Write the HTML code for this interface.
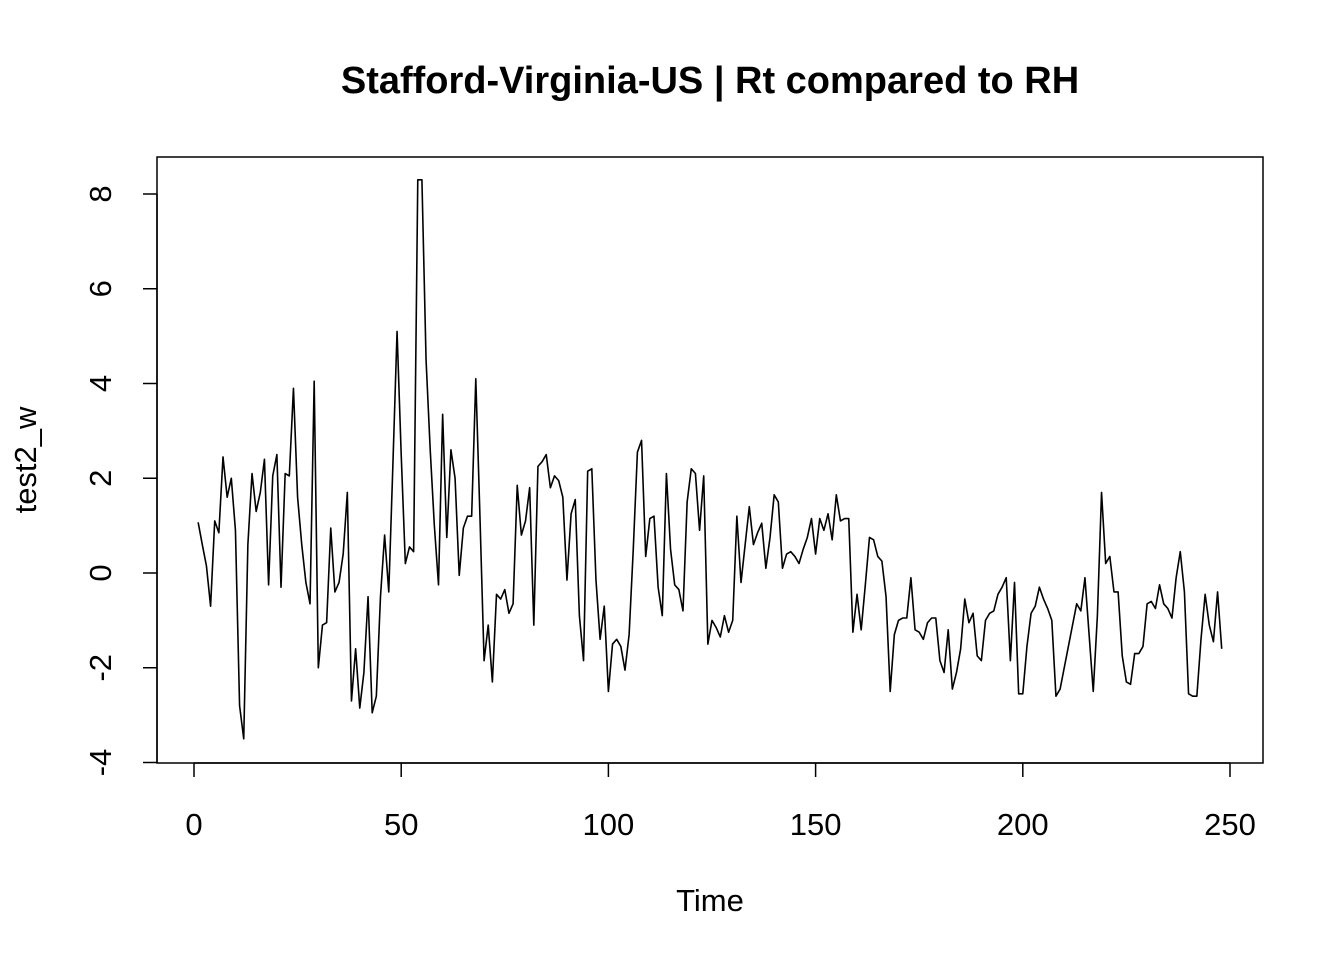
<!DOCTYPE html>
<html><head><meta charset="utf-8"><style>
html,body{margin:0;padding:0;background:#fff;}
svg{display:block;font-family:"Liberation Sans",Arial,sans-serif;}
</style></head><body>
<svg id="chart" width="1344" height="960">
<text x="710" y="93" text-anchor="middle" font-size="38" font-weight="bold">Stafford-Virginia-US | Rt compared to RH</text>
<rect x="157" y="157" width="1106" height="606" fill="none" stroke="#000" stroke-width="1.5"/>
<g id="xaxis"></g>
<g id="yaxis"></g>
<text x="710" y="911" text-anchor="middle" font-size="31">Time</text>
<text transform="translate(36,460) rotate(-90)" text-anchor="middle" font-size="31">test2_w</text>
<path id="line" fill="none" stroke="#000" stroke-width="1.6" stroke-linejoin="round"/>
</svg>
<script>
const xTicks=[0,50,100,150,200,250];
const yTicks=[-4,-2,0,2,4,6,8];
const values=[1.07,0.6,0.15,-0.7,1.1,0.85,2.45,1.6,2.0,0.9,
-2.8,-3.5,0.6,2.1,1.3,1.7,2.4,-0.25,2.05,2.5,
-0.3,2.1,2.05,3.9,1.6,0.6,-0.2,-0.65,4.05,-2.0,
-1.1,-1.05,0.95,-0.4,-0.2,0.4,1.7,-2.7,-1.6,-2.85,
-2.1,-0.5,-2.95,-2.6,-0.5,0.8,-0.4,2.3,5.1,2.5,
0.2,0.55,0.45,8.3,8.3,4.5,2.6,1.0,-0.25,3.35,
0.75,2.6,2.0,-0.05,0.95,1.2,1.2,4.1,1.2,-1.85,
-1.1,-2.3,-0.45,-0.55,-0.35,-0.85,-0.65,1.85,0.8,1.1,
1.8,-1.1,2.25,2.35,2.5,1.8,2.05,1.95,1.6,-0.15,
1.25,1.55,-0.9,-1.85,2.15,2.2,-0.15,-1.4,-0.7,-2.5,
-1.5,-1.4,-1.55,-2.05,-1.3,0.5,2.55,2.8,0.35,1.15,
1.2,-0.3,-0.9,2.1,0.5,-0.25,-0.35,-0.8,1.5,2.2,
2.1,0.9,2.05,-1.5,-1.0,-1.15,-1.35,-0.9,-1.25,-1.0,
1.2,-0.2,0.6,1.4,0.6,0.85,1.05,0.1,0.75,1.65,
1.5,0.1,0.4,0.45,0.35,0.2,0.5,0.75,1.15,0.4,
1.15,0.9,1.25,0.7,1.65,1.1,1.15,1.15,-1.25,-0.45,
-1.2,-0.25,0.75,0.7,0.35,0.25,-0.5,-2.5,-1.3,-1.0,
-0.95,-0.95,-0.1,-1.2,-1.25,-1.4,-1.05,-0.95,-0.95,-1.85,
-2.1,-1.2,-2.45,-2.1,-1.6,-0.55,-1.05,-0.85,-1.75,-1.85,
-1.0,-0.85,-0.8,-0.45,-0.3,-0.1,-1.85,-0.2,-2.55,-2.55,
-1.55,-0.85,-0.7,-0.3,-0.55,-0.75,-1.0,-2.6,-2.45,-2.0,
-1.55,-1.1,-0.65,-0.8,-0.1,-1.3,-2.5,-0.9,1.7,0.2,
0.35,-0.4,-0.4,-1.75,-2.3,-2.35,-1.7,-1.7,-1.55,-0.65,
-0.6,-0.75,-0.25,-0.65,-0.75,-0.95,-0.1,0.45,-0.4,-2.55,
-2.6,-2.6,-1.4,-0.45,-1.1,-1.45,-0.4,-1.6];
const NS="http://www.w3.org/2000/svg";
function xs(t){return 194+(t-0)*(1230-194)/250;}
function ys(v){return 573-v*(573-194)/8;}
const xg=document.getElementById('xaxis'),yg=document.getElementById('yaxis');
function mk(tag,attrs,parent){const e=document.createElementNS(NS,tag);for(const k in attrs)e.setAttribute(k,attrs[k]);parent.appendChild(e);return e;}
mk('line',{x1:xs(xTicks[0]),x2:xs(xTicks[xTicks.length-1]),y1:763,y2:763,stroke:'#000','stroke-width':1.5},xg);
xTicks.forEach(t=>{
  const tk=mk('line',{x1:xs(t),x2:xs(t),y1:763,y2:777,stroke:'#000','stroke-width':1.5},xg);
  
  
  const tx=mk('text',{x:xs(t),y:835,'text-anchor':'middle','font-size':31},xg);
  tx.textContent=t;
  
  
});
mk('line',{x1:157,x2:157,y1:ys(yTicks[0]),y2:ys(yTicks[yTicks.length-1]),stroke:'#000','stroke-width':1.5},yg);
yTicks.forEach(v=>{
  const tk=mk('line',{x1:143,x2:157,y1:ys(v),y2:ys(v),stroke:'#000','stroke-width':1.5},yg);
  
  
  const tx=mk('text',{transform:'translate(111,'+ys(v)+') rotate(-90)','text-anchor':'middle','font-size':31},yg);
  tx.textContent=v;
  
  
});
let d='';
values.forEach((v,i)=>{d+=(i?'L':'M')+xs(i+1).toFixed(2)+','+ys(v).toFixed(2);});
document.getElementById('line').setAttribute('d',d);
</script>
</body></html>
